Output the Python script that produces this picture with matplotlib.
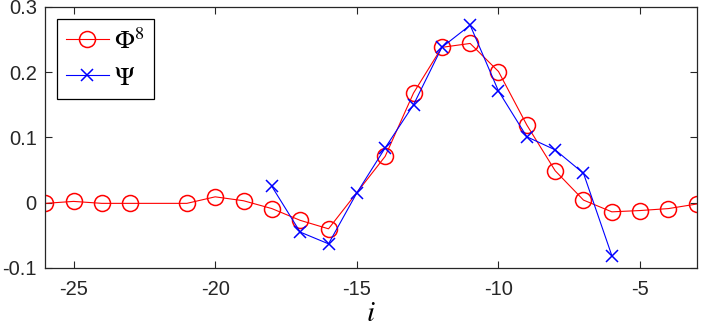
import numpy as np
import matplotlib
matplotlib.use('Agg')
import matplotlib.pyplot as plt

plt.rcParams['font.family'] = ['Liberation Sans', 'DejaVu Sans']
plt.rcParams['mathtext.fontset'] = 'stix'

# Phi^8 (red circles)
phi_i = [-26, -25, -24, -23, -21, -20, -19, -18, -17, -16, -14, -13, -12, -11,
         -10, -9, -8, -7, -6, -5, -4, -3]
phi_v = [-0.001, 0.002, -0.001, -0.001, -0.001, 0.009, 0.003, -0.009, -0.027, -0.040,
         0.071, 0.168, 0.238, 0.244, 0.201, 0.119, 0.049, 0.004, -0.014, -0.012,
         -0.009, -0.002]

# Psi (blue crosses)
psi_i = [-18, -17, -16, -15, -14, -13, -12, -11, -10, -9, -8, -7, -6]
psi_v = [0.025, -0.045, -0.063, 0.015, 0.084, 0.150, 0.238, 0.272, 0.171,
         0.101, 0.081, 0.045, -0.081]

dark = '#262626'

fig = plt.figure(figsize=(7.06, 3.28), dpi=100)
ax = fig.add_axes([0.064, 0.183, 0.923, 0.796])

ax.plot(phi_i, phi_v, 'r-', marker='o', mfc='none', mec='red', ms=11.5, mew=1.1,
        lw=0.8, label=r'$\Phi^8$')
ax.plot(psi_i, psi_v, 'b-', marker='x', ms=8.5, mew=1.1, lw=0.8, label=r'$\Psi$')

ax.set_xlim(-26, -3)
ax.set_ylim(-0.1, 0.3)
ax.set_xticks([-25, -20, -15, -10, -5])
ax.set_xticklabels(['-25', '-20', '-15', '-10', '-5'])
ax.set_yticks([-0.1, 0, 0.1, 0.2, 0.3])
ax.set_yticklabels(['-0.1', '0', '0.1', '0.2', '0.3'])
ax.tick_params(direction='in', top=True, right=True, labelsize=14.5,
               colors=dark, length=5, width=0.8)
ax.tick_params(axis='x', pad=9)
ax.tick_params(axis='y', pad=6)
for s in ax.spines.values():
    s.set_color(dark)
    s.set_linewidth(0.9)

ax.set_xlabel(r'$i$', fontsize=21, labelpad=0)

leg = ax.legend(loc='upper left', fontsize=19, fancybox=False, edgecolor='black',
                framealpha=1, handlelength=1.6, borderpad=0.35, labelspacing=0.45,
                handletextpad=0.2, borderaxespad=0.45)
leg.get_frame().set_linewidth(0.9)

fig.savefig('out.png', dpi=100)
